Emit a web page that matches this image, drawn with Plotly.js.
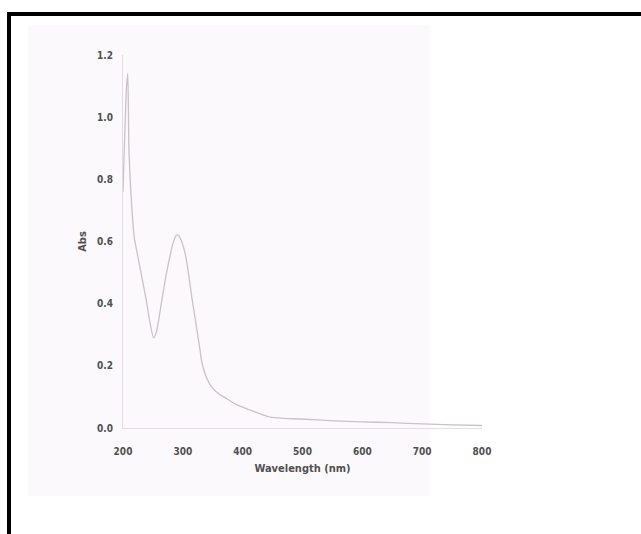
<!DOCTYPE html>
<html>
<head>
<meta charset="utf-8">
<script src="https://cdn.plot.ly/plotly-3.0.1.min.js"></script>
<style>html,body{margin:0;padding:0;background:#fff;}#chart{width:641px;height:534px;}</style>
</head>
<body>
<div id="chart"></div>
<script>
const wavelength = [200, 203, 206, 208, 210, 215, 219, 223, 227, 233, 239, 245, 251, 256, 264, 270, 276, 283, 289, 293, 298, 304, 310, 315, 320, 324, 328, 332, 340, 349, 360, 371, 390, 412, 430, 446, 470, 497, 553, 600, 650, 700, 750, 800];
const absorbance = [0.76, 0.95, 1.10, 1.14, 0.89, 0.70, 0.61, 0.57, 0.53, 0.47, 0.41, 0.34, 0.29, 0.31, 0.40, 0.47, 0.53, 0.59, 0.62, 0.62, 0.60, 0.56, 0.49, 0.42, 0.36, 0.31, 0.26, 0.21, 0.16, 0.13, 0.11, 0.097, 0.075, 0.058, 0.045, 0.035, 0.031, 0.029, 0.023, 0.020, 0.017, 0.013, 0.010, 0.008];
const xTicks = [200, 300, 400, 500, 600, 700, 800];
const yTicks = [0.0, 0.2, 0.4, 0.6, 0.8, 1.0, 1.2];

const fontFamily = "'DejaVu Sans Condensed', 'Liberation Sans Narrow', 'Arial Narrow', sans-serif";
const tickFont = {family: fontFamily, size: 10, color: '#505050', weight: 'bold'};

const trace = {
  x: wavelength, y: absorbance, type: 'scatter', mode: 'lines',
  line: {color: '#c9c2c9', width: 1.3, shape: 'spline', smoothing: 0.6},
  hoverinfo: 'skip', showlegend: false
};

const layout = {
  width: 641, height: 534,
  margin: {l: 123, r: 159, t: 55, b: 106},
  paper_bgcolor: '#ffffff', plot_bgcolor: 'rgba(0,0,0,0)',
  showlegend: false,
  xaxis: {
    range: [200, 800], tickvals: xTicks, ticktext: xTicks.map(String),
    showgrid: false, zeroline: false, showline: true, linecolor: '#e4dce4', linewidth: 1,
    ticks: '', tickfont: tickFont, ticklabelstandoff: 14,
    title: {text: 'Wavelength (nm)', font: {family: fontFamily, size: 11, color: '#505050', weight: 'bold'}, standoff: 8}
  },
  yaxis: {
    range: [0, 1.2], tickvals: yTicks, ticktext: yTicks.map(v => v.toFixed(1)),
    showgrid: false, zeroline: false, showline: true, linecolor: '#e4dce4', linewidth: 1,
    ticks: '', tickfont: tickFont, ticklabelstandoff: 7,
    title: {text: 'Abs', font: {family: fontFamily, size: 11, color: '#505050', weight: 'bold'}, standoff: 8}
  },
  shapes: [
    {type: 'rect', xref: 'paper', yref: 'paper', layer: 'below',
     x0: (28 - 123) / 359, x1: (430 - 123) / 359, y0: (428 - 496) / 373, y1: (428 - 25) / 373,
     fillcolor: '#fcf9fc', line: {width: 0}},
    {type: 'rect', xref: 'paper', yref: 'paper', layer: 'above',
     x0: (9 - 123) / 359, x1: (660 - 123) / 359, y0: (428 - 560) / 373, y1: (428 - 14) / 373,
     fillcolor: 'rgba(0,0,0,0)', line: {color: '#000000', width: 4}}
  ]
};

Plotly.newPlot('chart', [trace], layout, {staticPlot: true, displayModeBar: false});
</script>
</body>
</html>
